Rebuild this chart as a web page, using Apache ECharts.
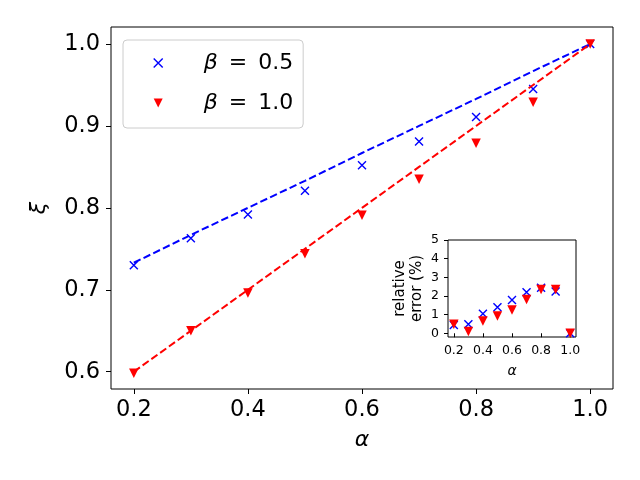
<!DOCTYPE html>
<html>
<head>
<meta charset="utf-8">
<script src="https://cdn.jsdelivr.net/npm/echarts@6/dist/echarts.min.js"></script>
<style>
  html, body { margin: 0; padding: 0; background: #fff; }
  #chart { width: 640px; height: 480px; }
</style>
</head>
<body>
<div id="chart"></div>
<script>
// ---- data ----
const alpha = [0.2, 0.3, 0.4, 0.5, 0.6, 0.7, 0.8, 0.9, 1.0];
const xiBeta05 = [0.730, 0.763, 0.792, 0.821, 0.852, 0.881, 0.911, 0.945, 1.000];
const xiBeta10 = [0.598, 0.650, 0.696, 0.744, 0.791, 0.835, 0.879, 0.929, 1.000];
const theoryBeta05 = [0.733, 0.767, 0.800, 0.833, 0.867, 0.900, 0.933, 0.967, 1.000];
const theoryBeta10 = [0.600, 0.650, 0.700, 0.750, 0.800, 0.850, 0.900, 0.950, 1.000];
const errBeta05 = [0.44, 0.48, 1.04, 1.39, 1.78, 2.20, 2.44, 2.24, 0.00];
const errBeta10 = [0.48, 0.09, 0.66, 0.93, 1.25, 1.81, 2.35, 2.35, 0.00];
const mainXTicks = [0.2, 0.4, 0.6, 0.8, 1.0];
const mainYTicks = [0.6, 0.7, 0.8, 0.9, 1.0];
const insetXTicks = [0.2, 0.4, 0.6, 0.8, 1.0];
const insetYTicks = [0, 1, 2, 3, 4, 5];
const seriesNames = ['β = 0.5', 'β = 1.0'];

const pairs = (xs, ys) => xs.map((x, i) => [x, ys[i]]);

const FONT = 'DejaVu Sans';
const BLUE = '#0000ff';
const RED = '#ff0000';
const X_PATH = 'path://M0,0L10,10M10,0L0,10';
const TRI_DOWN = 'path://M0,0L10,0L5,10Z';

const chart = echarts.init(document.getElementById('chart'), null, { renderer: 'canvas' });

function valueAxis(gridIndex, min, max, ticks, fontSize, margin, tickLen, digits, name, nameOpts) {
  return Object.assign({
    type: 'value',
    gridIndex: gridIndex,
    min: min,
    max: max,
    axisLine: { show: false },
    splitLine: { show: false },
    axisTick: { show: true, inside: false, length: tickLen, customValues: ticks, lineStyle: { color: '#000', width: 1 } },
    axisLabel: {
      show: true, customValues: ticks, margin: margin, color: '#000',
      fontFamily: FONT, fontSize: fontSize,
      formatter: v => Number(v).toFixed(digits)
    },
    name: name,
    nameLocation: 'middle'
  }, nameOpts);
}

const option = {
  animation: false,
  backgroundColor: '#fff',
  textStyle: { fontFamily: FONT },
  grid: [
    { left: 111, top: 27, width: 502, height: 362, show: true, borderColor: '#000', borderWidth: 1, backgroundColor: 'transparent', containLabel: false },
    { left: 448, top: 240, width: 128, height: 97, show: true, borderColor: '#000', borderWidth: 1, backgroundColor: '#fff', containLabel: false, z: 5 }
  ],
  xAxis: [
    valueAxis(0, 0.16, 1.04, mainXTicks, 22.5, 10, 5, 1, 'α', {
      nameGap: 40, nameTextStyle: { fontFamily: FONT, fontSize: 22, fontStyle: 'italic', color: '#000' }
    }),
    valueAxis(1, 0.16, 1.04, insetXTicks, 12.5, 7, 4, 1, 'α', {
      nameGap: 27, nameTextStyle: { fontFamily: FONT, fontSize: 14, fontStyle: 'italic', color: '#000' }, z: 6
    })
  ],
  yAxis: [
    valueAxis(0, 0.5789, 1.0208, mainYTicks, 22.5, 11, 5, 1, 'ξ', {
      nameGap: 61, nameRotate: 90, nameTextStyle: { fontFamily: FONT, fontSize: 22, fontStyle: 'italic', color: '#000' }
    }),
    valueAxis(1, -0.2, 5, insetYTicks, 12.5, 9, 4, 0, 'relative\nerror (%)', {
      nameGap: 22, nameRotate: 90, nameTextStyle: { fontFamily: FONT, fontSize: 15, lineHeight: 17, color: '#000' }, z: 6
    })
  ],
  legend: {
    data: [
      { name: seriesNames[0], icon: X_PATH, itemStyle: { color: 'transparent', borderColor: BLUE, borderWidth: 1.4 } },
      { name: seriesNames[1], icon: TRI_DOWN, itemStyle: { color: RED, borderWidth: 0 } }
    ],
    orient: 'vertical',
    left: 123,
    top: 40,
    padding: [10, 10, 12, 30],
    itemGap: 14,
    itemWidth: 9,
    itemHeight: 9,
    backgroundColor: 'rgba(255,255,255,0.8)',
    borderColor: '#cccccc',
    borderWidth: 1,
    borderRadius: 4,
    textStyle: {
      fontFamily: FONT, fontSize: 22, color: '#000', lineHeight: 26,
      padding: [0, 0, 0, 36],
      rich: { i: { fontFamily: FONT, fontSize: 22, fontStyle: 'italic', color: '#000', lineHeight: 26 } }
    },
    formatter: name => '{i|β}' + name.slice(1).replace(/ /g, '\u2002')
  },
  series: [
    {
      name: 'fit ' + seriesNames[0], type: 'line', xAxisIndex: 0, yAxisIndex: 0,
      data: pairs(alpha, theoryBeta05), showSymbol: false, symbol: 'none',
      lineStyle: { color: BLUE, width: 2, type: [7.5, 3.3] }, z: 3
    },
    {
      name: 'fit ' + seriesNames[1], type: 'line', xAxisIndex: 0, yAxisIndex: 0,
      data: pairs(alpha, theoryBeta10), showSymbol: false, symbol: 'none',
      lineStyle: { color: RED, width: 2, type: [7.5, 3.3] }, z: 3
    },
    {
      name: seriesNames[0], type: 'scatter', xAxisIndex: 0, yAxisIndex: 0,
      data: pairs(alpha, xiBeta05), symbol: X_PATH, symbolSize: 8,
      itemStyle: { color: 'transparent', borderColor: BLUE, borderWidth: 1.4, opacity: 1 }, z: 2
    },
    {
      name: seriesNames[1], type: 'scatter', xAxisIndex: 0, yAxisIndex: 0,
      data: pairs(alpha, xiBeta10), symbol: TRI_DOWN, symbolSize: 9.5,
      itemStyle: { color: RED, opacity: 1 }, z: 2
    },
    {
      name: 'inset ' + seriesNames[0], type: 'scatter', xAxisIndex: 1, yAxisIndex: 1,
      data: pairs(alpha, errBeta05), symbol: X_PATH, symbolSize: 8,
      itemStyle: { color: 'transparent', borderColor: BLUE, borderWidth: 1.4, opacity: 1 }, z: 7
    },
    {
      name: 'inset ' + seriesNames[1], type: 'scatter', xAxisIndex: 1, yAxisIndex: 1,
      data: pairs(alpha, errBeta10), symbol: TRI_DOWN, symbolSize: 9.5,
      itemStyle: { color: RED, opacity: 1 }, z: 8
    }
  ]
};

chart.setOption(option);
</script>
</body>
</html>
